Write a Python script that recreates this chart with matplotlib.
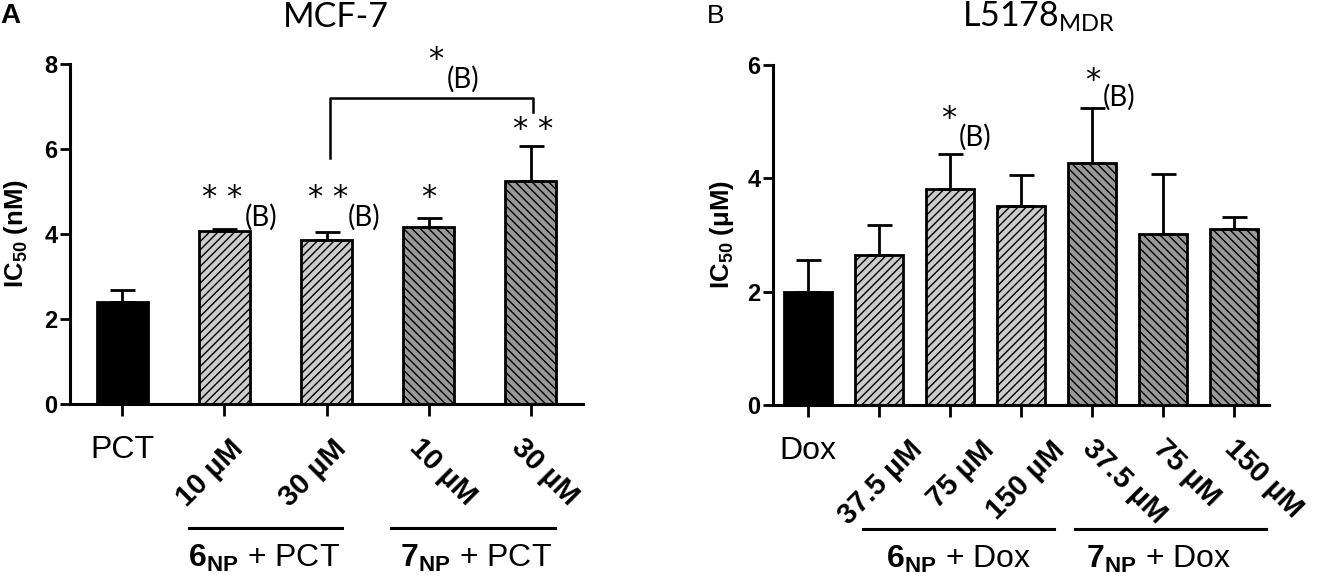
import matplotlib.pyplot as plt

plt.rcParams['font.family'] = ['Liberation Sans', 'DejaVu Sans']
plt.rcParams['mathtext.fontset'] = 'custom'
plt.rcParams['mathtext.rm'] = 'Lato'
plt.rcParams['mathtext.bf'] = 'Liberation Sans:bold'
plt.rcParams['hatch.linewidth'] = 1.0

# panel A - MCF-7
a_labels = ['PCT', '10 µM', '30 µM', '10 µM', '30 µM']
a_values = [2.41, 4.08, 3.86, 4.16, 5.25]
a_err = [0.27, 0.03, 0.19, 0.22, 0.82]
a_groups = ['ctrl', '6', '6', '7', '7']

# panel B - L5178 MDR
b_labels = ['Dox', '37.5 µM', '75 µM', '150 µM', '37.5 µM', '75 µM', '150 µM']
b_values = [2.00, 2.65, 3.82, 3.51, 4.27, 3.02, 3.10]
b_err = [0.56, 0.53, 0.61, 0.55, 0.97, 1.06, 0.22]
b_groups = ['ctrl', '6', '6', '6', '7', '7', '7']

styles = {
    'ctrl': dict(color='black', hatch=None),
    '6': dict(color='#cccccc', hatch='////'),
    '7': dict(color='#999999', hatch='\\\\\\\\'),
}

fig = plt.figure(figsize=(13.18, 5.78), dpi=100)
axA = fig.add_axes([70/1318, 174/578, 513/1318, 340/578])
axB = fig.add_axes([773/1318, 173/578, 496/1318, 340/578])


def draw_panel(ax, labels, values, err, groups, width, xlim, ylim, yticks,
               left_off, right_off):
    x = list(range(len(values)))
    for xi, v, g in zip(x, values, groups):
        st = styles[g]
        ax.bar(xi, v, width, color=st['color'], edgecolor='black',
               linewidth=2, hatch=st['hatch'], zorder=2)
    ax.errorbar(x, values, yerr=[[0]*len(err), err], fmt='none', ecolor='black',
                elinewidth=2, capsize=9, capthick=2, zorder=3)
    ax.set_xlim(*xlim)
    ax.set_ylim(*ylim)
    ax.set_yticks(yticks)
    ax.set_xticks(x)
    ax.set_xticklabels([])
    for s in ['top', 'right']:
        ax.spines[s].set_visible(False)
    for s in ['left', 'bottom']:
        ax.spines[s].set_linewidth(2.2)
    ax.tick_params(axis='y', width=2, length=7, pad=2, labelsize=17)
    ax.tick_params(axis='x', width=2, length=8.5)
    for t in ax.get_yticklabels():
        t.set_fontweight('bold')
    tr = ax.get_xaxis_transform()
    for xi, lab, g in zip(x, labels, groups):
        if g == 'ctrl':
            ax.text(xi, -0.09, lab, transform=tr, ha='center', va='top', fontsize=23)
        elif g == '6':
            ax.text(xi + left_off, -0.09, lab, transform=tr, ha='right', va='top',
                    rotation=45, rotation_mode='anchor', fontsize=21, fontweight='bold')
        else:
            ax.text(xi + right_off, -0.085, lab, transform=tr, ha='left', va='top',
                    rotation=-45, rotation_mode='anchor', fontsize=21, fontweight='bold')
    return tr


star_fs = 22
paren_fs = 20

# ---- panel A
tr = draw_panel(axA, a_labels, a_values, a_err, a_groups, 0.5, (-0.51, 4.51),
                (0, 8), [0, 2, 4, 6, 8], 0.05, -0.05)
axA.set_ylabel('IC$_{\\mathbf{50}}$ (nM)', fontsize=18.5, fontweight='bold')
axA.yaxis.set_label_coords(-0.077, 0.5)
axA.plot([0.65, 2.15], [-0.365, -0.365], transform=tr, clip_on=False, color='black', lw=2.2)
axA.plot([2.63, 4.24], [-0.365, -0.365], transform=tr, clip_on=False, color='black', lw=2.2)
axA.text(1.39, -0.453, r'$\mathbf{6}_{\mathbf{NP}}$ + PCT', transform=tr, ha='center',
         va='center', fontsize=23)
axA.text(3.46, -0.453, r'$\mathbf{7}_{\mathbf{NP}}$ + PCT', transform=tr, ha='center',
         va='center', fontsize=23)

a_stars = [(0.98, 4.92, '* *'), (2.02, 4.92, '* *'), (3.0, 4.92, '*'),
           (4.02, 6.52, '* *'), (3.07, 8.17, '*')]
a_paren = [(1.36, 4.40), (2.37, 4.40), (3.34, 7.65)]
for sx, sy, s in a_stars:
    axA.text(sx, sy, s, ha='center', va='center_baseline', fontsize=star_fs,
             family='DejaVu Sans', clip_on=False)
for px, py in a_paren:
    axA.text(px, py, '(B)', ha='center', va='center', fontsize=paren_fs, family='Lato',
             clip_on=False)
axA.plot([2.03, 2.03, 4.02, 4.02], [5.79, 7.21, 7.21, 6.87], color='black', lw=1.8,
         clip_on=False)

# ---- panel B
tr = draw_panel(axB, b_labels, b_values, b_err, b_groups, 0.68, (-0.49, 6.49),
                (0, 6), [0, 2, 4, 6], 0.42, 0.06)
axB.set_ylabel('IC$_{\\mathbf{50}}$ (μM)', fontsize=18.5, fontweight='bold')
axB.yaxis.set_label_coords(-0.075, 0.5)
axB.plot([0.78, 3.47], [-0.365, -0.365], transform=tr, clip_on=False, color='black', lw=2.2)
axB.plot([3.76, 6.45], [-0.365, -0.365], transform=tr, clip_on=False, color='black', lw=2.2)
axB.text(2.12, -0.453, r'$\mathbf{6}_{\mathbf{NP}}$ + Dox', transform=tr, ha='center',
         va='center', fontsize=23)
axB.text(4.94, -0.453, r'$\mathbf{7}_{\mathbf{NP}}$ + Dox', transform=tr, ha='center',
         va='center', fontsize=23)

b_stars = [(1.98, 5.11, '*'), (4.01, 5.78, '*')]
b_paren = [(2.36, 4.73), (4.38, 5.43)]
for sx, sy, s in b_stars:
    axB.text(sx, sy, s, ha='center', va='center_baseline', fontsize=star_fs,
             family='DejaVu Sans', clip_on=False)
for px, py in b_paren:
    axB.text(px, py, '(B)', ha='center', va='center', fontsize=paren_fs, family='Lato',
             clip_on=False)

# titles and panel letters
fig.text(283/1318, 1 - 17/578, 'MCF-7', ha='left', va='center', fontsize=24.5, family='Lato')
fig.text(962/1318, 1 - 17/578, 'L5178$_{\\mathrm{MDR}}$', ha='left', va='center',
         fontsize=24.5, family='Lato')
fig.text(0.0, 1 - 3/578, 'A', ha='left', va='top', fontsize=20, fontweight='bold')
fig.text(707/1318, 1 - 4/578, 'B', ha='left', va='top', fontsize=19)

fig.savefig('out.png', dpi=100)
